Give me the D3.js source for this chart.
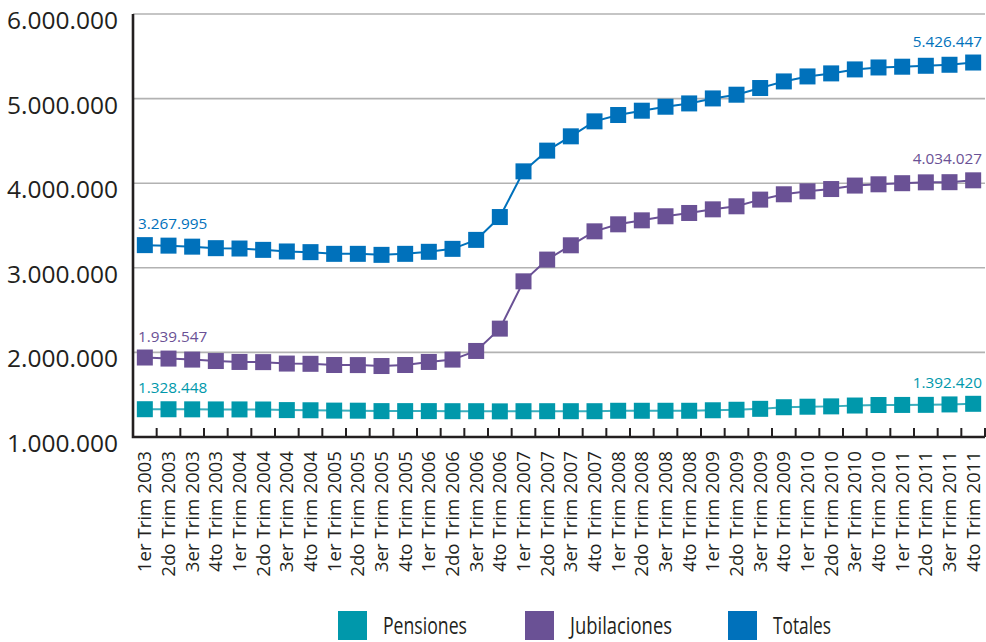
<!DOCTYPE html>
<html lang="es">
<head>
    <meta charset="UTF-8">
    <title>Pensiones y Jubilaciones</title>
    <style>
        body { margin: 0; background: #fff; }
        svg text { fill: #231f20; }
    </style>
    <script src="https://d3js.org/d3.v7.min.js"></script>
</head>
<body>
    <div id="chart"></div>

    <script>
        // categories (quarters)
        const trimestres = [
            "1er Trim 2003", "2do Trim 2003", "3er Trim 2003", "4to Trim 2003",
            "1er Trim 2004", "2do Trim 2004", "3er Trim 2004", "4to Trim 2004",
            "1er Trim 2005", "2do Trim 2005", "3er Trim 2005", "4to Trim 2005",
            "1er Trim 2006", "2do Trim 2006", "3er Trim 2006", "4to Trim 2006",
            "1er Trim 2007", "2do Trim 2007", "3er Trim 2007", "4to Trim 2007",
            "1er Trim 2008", "2do Trim 2008", "3er Trim 2008", "4to Trim 2008",
            "1er Trim 2009", "2do Trim 2009", "3er Trim 2009", "4to Trim 2009",
            "1er Trim 2010", "2do Trim 2010", "3er Trim 2010", "4to Trim 2010",
            "1er Trim 2011", "2do Trim 2011", "3er Trim 2011", "4to Trim 2011"
        ]

        // series values
        const pensiones = [
            1328448, 1328000, 1327000, 1326000, 1326000, 1325000, 1318000, 1316000,
            1312000, 1311000, 1306000, 1306000, 1306000, 1305000, 1305000, 1303000,
            1305000, 1305000, 1305000, 1305000, 1310000, 1310000, 1310000, 1310000,
            1316000, 1322000, 1333000, 1352000, 1358000, 1362000, 1372000, 1378000,
            1379000, 1380000, 1385000, 1392420
        ]
        const jubilaciones = [
            1939547, 1927000, 1915000, 1898000, 1887000, 1885000, 1868000, 1865000,
            1851000, 1850000, 1839000, 1851000, 1887000, 1915000, 2017000, 2281000,
            2840000, 3097000, 3266000, 3431000, 3514000, 3561000, 3609000, 3648000,
            3691000, 3727000, 3806000, 3869000, 3904000, 3931000, 3972000, 3987000,
            4000000, 4010000, 4012000, 4034027
        ]
        const totales = [
            3267995, 3262000, 3250000, 3232000, 3228000, 3212000, 3193000, 3185000,
            3165000, 3165000, 3153000, 3165000, 3189000, 3224000, 3330000, 3600000,
            4140000, 4385000, 4554000, 4731000, 4806000, 4857000, 4904000, 4943000,
            5002000, 5046000, 5125000, 5203000, 5262000, 5298000, 5345000, 5368000,
            5377000, 5388000, 5400000, 5426447
        ]
        const yTicks = [1000000, 2000000, 3000000, 4000000, 5000000, 6000000]

        const series = [
            {name: "Pensiones", values: pensiones, color: "#0098ab", line: "#3aaebd"},
            {name: "Jubilaciones", values: jubilaciones, color: "#6a5195", line: "#6a5195"},
            {name: "Totales", values: totales, color: "#0071bb", line: "#0071bb"}
        ]

        const W = 986, H = 642
        const plot = {left: 133, right: 985, top: 14, bottom: 437}

        // thousands with dots
        const fmt = v => d3.format(",")(v).replace(/,/g, ".")

        const svg = d3.select("#chart")
            .append("svg")
            .attr("width", W)
            .attr("height", H)
            .style("font-family", "'Open Sans', 'Noto Sans', sans-serif")

        const x = d3.scaleBand()
            .domain(trimestres)
            .range([plot.left, plot.right])
            .padding(0)

        const y = d3.scaleLinear()
            .domain([1000000, 6000000])
            .range([plot.bottom, plot.top])

        //gridlines
        svg.append("g")
            .selectAll("line")
            .data(yTicks.slice(1))
            .join("line")
            .attr("x1", plot.left)
            .attr("x2", plot.right)
            .attr("y1", d => y(d))
            .attr("y2", d => y(d))
            .attr("stroke", "#b2b2b2")
            .attr("stroke-width", 1.6)

        //y labels
        svg.append("g")
            .selectAll("text")
            .data(yTicks)
            .join("text")
            .attr("x", 118)
            .attr("y", d => y(d) + 15)
            .attr("text-anchor", "end")
            .style("font-size", "24.5px")
            .text(fmt)

        //x axis ticks (point inward)
        svg.append("g")
            .selectAll("line")
            .data(trimestres)
            .join("line")
            .attr("x1", d => x(d) + x.bandwidth())
            .attr("x2", d => x(d) + x.bandwidth())
            .attr("y1", plot.bottom)
            .attr("y2", plot.bottom - 9)
            .attr("stroke", "#231f20")
            .attr("stroke-width", 2)

        //x labels rotated
        svg.append("g")
            .selectAll("text")
            .data(trimestres)
            .join("text")
            .attr("transform", d => `translate(${x(d) + x.bandwidth() / 2 + 6.5},${plot.bottom + 14}) rotate(-90)`)
            .attr("text-anchor", "end")
            .style("font-size", "18.7px")
            .text(d => d)

        //axis lines
        svg.append("path")
            .attr("d", `M${plot.left},${plot.top}V${plot.bottom}H${plot.right}`)
            .attr("fill", "none")
            .attr("stroke", "#231f20")
            .attr("stroke-width", 2.6)

        //lines
        const line = d3.line()
            .x((d, i) => x(trimestres[i]) + x.bandwidth() / 2)
            .y(d => y(d))

        const sz = 16
        series.forEach(s => {
            svg.append("path")
                .datum(s.values)
                .attr("d", line)
                .attr("fill", "none")
                .attr("stroke", s.line)
                .attr("stroke-width", 2)

            svg.append("g")
                .selectAll("rect")
                .data(s.values)
                .join("rect")
                .attr("x", (d, i) => x(trimestres[i]) + x.bandwidth() / 2 - sz / 2)
                .attr("y", d => y(d) - sz / 2)
                .attr("width", sz)
                .attr("height", sz)
                .attr("fill", s.color)

            //first and last value labels
            const n = s.values.length
            svg.append("text")
                .attr("x", x(trimestres[0]) + 5)
                .attr("y", y(s.values[0]) - 16)
                .style("font-size", "15.3px")
                .style("fill", s.color)
                .text(fmt(s.values[0]))
            svg.append("text")
                .attr("x", plot.right - 3)
                .attr("y", y(s.values[n - 1]) - 16)
                .attr("text-anchor", "end")
                .style("font-size", "15.3px")
                .style("fill", s.color)
                .text(fmt(s.values[n - 1]))
        })

        //legend (condensed text)
        const legendX = [338, 525, 728]
        const legendW = [84, 102, 58]
        const lg = svg.append("g")
            .selectAll("g")
            .data(series)
            .join("g")
            .attr("transform", (d, i) => `translate(${legendX[i]},611)`)
        lg.append("rect")
            .attr("width", 29)
            .attr("height", 29)
            .attr("fill", d => d.color)
        lg.append("text")
            .attr("x", 45)
            .attr("y", 23)
            .attr("textLength", (d, i) => legendW[i])
            .attr("lengthAdjust", "spacingAndGlyphs")
            .style("font-size", "24px")
            .text(d => d.name)
    </script>
</body>
</html>
